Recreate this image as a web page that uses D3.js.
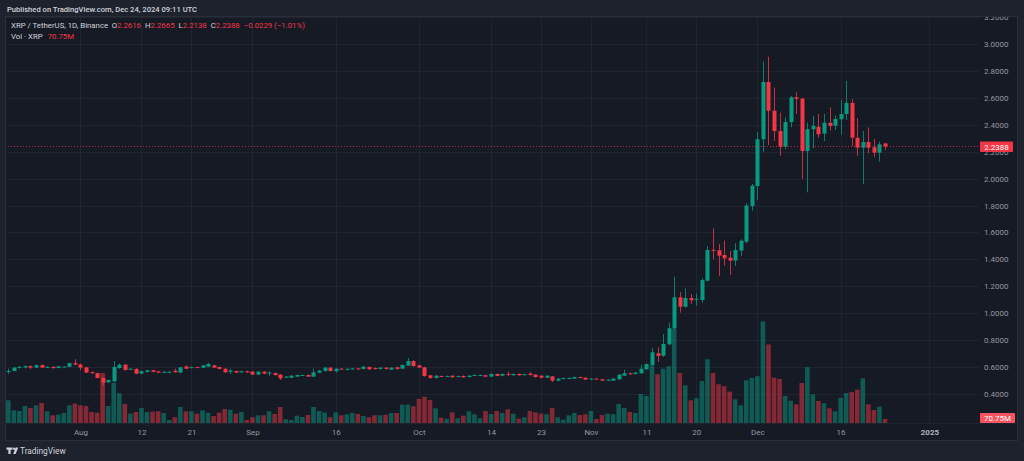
<!DOCTYPE html>
<html>
<head>
<meta charset="utf-8">
<script src="https://cdn.jsdelivr.net/npm/d3@7"></script>
<style>
  html, body { margin: 0; padding: 0; background: #1e222d; }
  svg { display: block; font-family: Roboto, "Noto Sans", sans-serif; }
</style>
</head>
<body>
<svg id="chart" width="1024" height="461"></svg>
<script>
// daily XRP/USDT candles from 2024-07-19 to 2024-12-24
const startDay = "2024-07-19";
const opens = [
  .567,.569,.594,.595,.605,.594,.613,.597,.600,.591,
  .600,.600,.628,.617,.596,.561,.553,.517,.485,.492,
  .591,.616,.582,.584,.550,.562,.574,.566,.561,.560,
  .571,.557,.603,.592,.598,.593,.601,.611,.599,.586,
  .563,.569,.559,.567,.564,.542,.564,.553,.554,.542,
  .519,.519,.527,.535,.539,.527,.556,.569,.594,.567,
  .586,.581,.584,.588,.584,.599,.591,.584,.594,.579,
  .596,.586,.609,.643,.611,.596,.537,.517,.532,.528,
  .534,.527,.532,.524,.532,.537,.537,.527,.547,.534,
  .547,.537,.547,.542,.549,.542,.534,.519,.529,.497,
  .512,.513,.512,.524,.519,.508,.512,.507,.499,.497,
  .507,.534,.552,.547,.552,.582,.614,.701,.683,.768,
  .887,1.117,1.047,1.112,1.103,1.097,1.241,1.470,1.467,1.432,
  1.412,1.390,1.464,1.531,1.796,1.945,2.293,2.719,2.505,2.354,
  2.238,2.421,2.605,2.595,2.205,2.367,2.386,2.335,2.416,2.394,
  2.441,2.481,2.563,2.304,2.230,2.272,2.233,2.193,2.2616
];
const highs = [
  .586,.600,.606,.610,.611,.618,.616,.604,.603,.606,
  .606,.632,.657,.624,.600,.566,.556,.520,.505,.643,
  .625,.620,.592,.590,.572,.578,.578,.570,.568,.570,
  .586,.600,.611,.603,.601,.615,.631,.615,.602,.590,
  .586,.573,.571,.571,.568,.568,.568,.567,.558,.545,
  .531,.537,.543,.542,.543,.586,.576,.598,.598,.590,
  .590,.589,.592,.592,.605,.603,.595,.598,.598,.598,
  .600,.618,.666,.650,.615,.600,.540,.538,.536,.535,
  .537,.535,.536,.537,.543,.543,.541,.550,.550,.550,
  .564,.550,.550,.549,.562,.545,.537,.537,.533,.516,
  .520,.521,.527,.527,.522,.517,.515,.510,.507,.515,
  .545,.579,.556,.561,.618,.625,.738,.745,.844,.928,
  1.271,1.157,1.184,1.142,1.147,1.259,1.499,1.630,1.514,1.538,
  1.462,1.519,1.549,1.816,1.960,2.347,2.870,2.907,2.677,2.490,
  2.456,2.615,2.642,2.600,2.416,2.466,2.481,2.480,2.531,2.470,
  2.585,2.726,2.590,2.450,2.354,2.382,2.295,2.275,2.2665
];
const lows = [
  .547,.565,.586,.590,.583,.590,.590,.592,.587,.588,
  .596,.597,.612,.574,.553,.547,.513,.462,.480,.488,
  .585,.570,.578,.545,.545,.558,.558,.553,.555,.556,
  .556,.554,.583,.588,.591,.590,.598,.590,.580,.555,
  .547,.553,.555,.555,.538,.538,.545,.532,.535,.502,
  .515,.516,.524,.531,.524,.524,.553,.566,.565,.557,
  .578,.574,.580,.580,.580,.578,.580,.580,.580,.576,
  .580,.583,.606,.600,.590,.525,.510,.513,.524,.524,
  .518,.524,.519,.521,.529,.533,.524,.524,.529,.531,
  .532,.534,.534,.538,.536,.521,.515,.515,.487,.493,
  .508,.509,.509,.514,.502,.504,.504,.494,.495,.494,
  .504,.531,.541,.543,.548,.578,.610,.638,.675,.760,
  .880,1.003,1.040,1.067,1.055,1.077,1.235,1.400,1.276,1.352,
  1.283,1.350,1.425,1.519,1.762,1.841,2.200,2.250,2.280,2.171,
  2.220,2.382,2.481,1.995,1.898,2.226,2.305,2.280,2.357,2.362,
  2.327,2.436,2.243,2.170,1.958,2.188,2.159,2.126,2.2138
];
const closes = [
  .569,.594,.600,.605,.594,.613,.594,.600,.590,.603,
  .602,.628,.617,.594,.557,.553,.517,.482,.502,.599,
  .616,.577,.586,.549,.567,.574,.562,.557,.563,.563,
  .560,.596,.586,.598,.594,.611,.621,.594,.584,.559,
  .572,.557,.567,.559,.542,.564,.549,.557,.539,.514,
  .527,.534,.539,.539,.527,.559,.572,.594,.569,.586,
  .581,.585,.588,.584,.601,.581,.584,.594,.584,.594,
  .584,.614,.643,.606,.594,.532,.517,.534,.527,.531,
  .522,.531,.522,.534,.539,.539,.527,.547,.532,.547,
  .542,.547,.537,.545,.539,.524,.519,.534,.497,.512,
  .516,.517,.524,.517,.505,.512,.507,.497,.504,.512,
  .542,.552,.545,.557,.586,.621,.708,.681,.770,.887,
  1.117,1.047,1.112,1.095,1.106,1.246,1.469,1.465,1.427,1.407,
  1.390,1.469,1.538,1.799,1.948,2.293,2.719,2.505,2.354,2.238,
  2.421,2.605,2.593,2.205,2.367,2.392,2.330,2.416,2.392,2.444,
  2.481,2.563,2.304,2.230,2.272,2.230,2.193,2.255,2.2388
];
// volume in millions of XRP
const volumes = [
  402,225,212,301,266,313,354,207,136,147,
  177,313,342,313,301,195,182,885,301,713,
  526,336,165,195,266,195,200,207,177,53,
  101,283,207,207,165,225,182,124,182,248,
  235,165,195,53,101,136,136,207,159,283,
  65,53,129,106,142,283,212,186,101,189,
  136,154,177,159,124,101,136,136,147,177,
  177,324,324,296,425,466,407,260,94,76,
  189,83,129,207,154,83,212,159,212,177,
  242,165,76,101,212,189,165,154,266,101,
  58,136,177,142,154,212,71,142,165,154,
  336,266,195,177,513,478,1021,862,961,1004,
  1669,885,667,402,437,743,1127,885,685,650,
  554,419,313,756,797,827,1797,1389,802,779,
  478,395,331,708,986,508,389,349,260,207,
  443,531,549,589,791,331,230,289,70.75
];
const priceTicks = [0.4,0.6,0.8,1.0,1.2,1.4,1.6,1.8,2.0,2.2,2.4,2.6,2.8,3.0,3.2];
const timeTickDates = ["2024-08-01","2024-08-12","2024-08-21","2024-09-01","2024-09-16","2024-10-01","2024-10-14","2024-10-23","2024-11-01","2024-11-11","2024-11-20","2024-12-01","2024-12-16","2025-01-01"];
const timeTickLabels = ["Aug","12","21","Sep","16","Oct","14","23","Nov","11","20","Dec","16","2025"];
const lastPrice = 2.2388;
const lastVolume = "70.75M";
const dayChange = "\u22120.0229 (\u22121.01%)";

const up = "#089981", down = "#f23645";
const textCol = "#d1d4dc", axisCol = "#9598a1", gridCol = "#20242f";

const parse = d3.utcParse("%Y-%m-%d");
const start = parse(startDay);
const days = opens.map((_, i) => d3.utcDay.offset(start, i));
const candles = days.map((d, i) => ({date: d, o: opens[i], h: highs[i], l: lows[i], c: closes[i], v: volumes[i]}));

const svg = d3.select("#chart");

const pane = {left: 5, top: 16, right: 1017, bottom: 440};
const plotRight = 979, plotBottom = 423;

const x = d3.scaleUtc()
  .domain([start, parse("2025-01-01")])
  .range([8.3, 929.4]);
const y = d3.scaleLinear().domain([0.4, 3.2]).range([393.7, 17.3]);
const yv = d3.scaleLinear().domain([0, 1800]).range([plotBottom, plotBottom - 101.8]);

// header
svg.append("text")
  .attr("x", 7).attr("y", 11.5)
  .attr("fill", textCol).attr("font-size", 7.6).attr("font-weight", 500)
  .text("Published on TradingView.com, Dec 24, 2024 09:11 UTC");

// pane
svg.append("rect")
  .attr("x", pane.left + 0.5).attr("y", pane.top + 0.5)
  .attr("width", pane.right - pane.left).attr("height", pane.bottom - pane.top)
  .attr("fill", "#161a25").attr("stroke", "#2a2e39");

svg.append("defs").append("clipPath").attr("id", "plotclip")
  .append("rect")
  .attr("x", pane.left + 1).attr("y", pane.top + 1)
  .attr("width", plotRight - pane.left - 1).attr("height", plotBottom - pane.top - 1);
svg.select("defs").append("clipPath").attr("id", "paneclip")
  .append("rect")
  .attr("x", pane.left + 1).attr("y", pane.top + 1)
  .attr("width", pane.right - pane.left - 1).attr("height", pane.bottom - pane.top - 1);

const plot = svg.append("g").attr("clip-path", "url(#plotclip)");

// grid
plot.append("g").selectAll("line").data(priceTicks).join("line")
  .attr("x1", pane.left).attr("x2", plotRight)
  .attr("y1", d => Math.round(y(d)) + 0.5).attr("y2", d => Math.round(y(d)) + 0.5)
  .attr("stroke", gridCol);
plot.append("g").selectAll("line").data(timeTickDates).join("line")
  .attr("x1", d => Math.round(x(parse(d))) + 0.5).attr("x2", d => Math.round(x(parse(d))) + 0.5)
  .attr("y1", pane.top).attr("y2", plotBottom)
  .attr("stroke", gridCol);

// volume
plot.append("g").selectAll("rect").data(candles).join("rect")
  .attr("x", d => x(d.date) - 2.3)
  .attr("width", 4.6)
  .attr("y", d => yv(d.v))
  .attr("height", d => plotBottom - yv(d.v))
  .attr("fill", d => d.c >= d.o ? up : down)
  .attr("fill-opacity", 0.5);

// candles
const cg = plot.append("g");
cg.selectAll("line").data(candles).join("line")
  .attr("x1", d => Math.round(x(d.date)) + 0.5).attr("x2", d => Math.round(x(d.date)) + 0.5)
  .attr("y1", d => y(d.h)).attr("y2", d => y(d.l))
  .attr("stroke", d => d.c >= d.o ? up : down)
  .attr("stroke-opacity", 0.8);
cg.selectAll("rect").data(candles).join("rect")
  .attr("x", d => Math.round(x(d.date)) - 1.5)
  .attr("width", 4)
  .attr("y", d => y(Math.max(d.o, d.c)))
  .attr("height", d => Math.max(1, Math.abs(y(d.o) - y(d.c))))
  .attr("fill", d => d.c >= d.o ? up : down);

// last price line
plot.append("line")
  .attr("x1", pane.left).attr("x2", plotRight)
  .attr("y1", y(lastPrice)).attr("y2", y(lastPrice))
  .attr("stroke", down).attr("stroke-dasharray", "1,2").attr("stroke-opacity", 0.7);

// bottom separator
svg.append("line")
  .attr("x1", pane.left).attr("x2", pane.right)
  .attr("y1", plotBottom + 0.5).attr("y2", plotBottom + 0.5)
  .attr("stroke", "#1f2330");

// price axis (2.2000 sits under the last-price tag, as in the source)
const yAxis = svg.append("g")
  .attr("clip-path", "url(#paneclip)")
  .append("g")
  .attr("transform", `translate(984,0)`)
  .call(d3.axisRight(y).tickValues(priceTicks).tickFormat(d3.format(".4f")).tickSize(0).tickPadding(0));
yAxis.select(".domain").remove();
yAxis.selectAll("text").attr("fill", axisCol).attr("font-size", 8).attr("font-family", "Roboto, sans-serif");

// time axis
const xAxis = svg.append("g")
  .attr("transform", `translate(0,${plotBottom})`)
  .call(d3.axisBottom(x).tickValues(timeTickDates.map(parse))
    .tickFormat((d, i) => timeTickLabels[i]).tickSize(0).tickPadding(6));
xAxis.select(".domain").remove();
xAxis.selectAll("text")
  .attr("fill", (d, i) => timeTickLabels[i] === "2025" ? "#b2b5be" : axisCol)
  .attr("font-weight", (d, i) => timeTickLabels[i] === "2025" ? 700 : 400)
  .attr("font-size", 8).attr("font-family", "Roboto, sans-serif");

// last price labels
const lp = svg.append("g");
lp.append("rect").attr("x", 980).attr("y", y(lastPrice) - 5).attr("width", 33).attr("height", 10.5)
  .attr("fill", down).attr("rx", 1);
lp.append("text").attr("x", 996.5).attr("y", y(lastPrice) + 3)
  .attr("text-anchor", "middle").attr("fill", "#fff").attr("font-size", 8).text(d3.format(".4f")(lastPrice));
lp.append("rect").attr("x", 980).attr("y", 413).attr("width", 35).attr("height", 10)
  .attr("fill", "#f7525f").attr("rx", 1);
lp.append("text").attr("x", 997.5).attr("y", 421)
  .attr("text-anchor", "middle").attr("fill", "#fff").attr("font-size", 8).text(lastVolume);

// legend, laid out left to right
const last = candles[candles.length - 1];
const f4 = d3.format(".4f");
const legend = svg.append("g").attr("font-size", 7.8);
let lx = 11;
function put(parts, yy, gap) {
  const t = legend.append("text").attr("x", lx).attr("y", yy);
  parts.forEach(([txt, col]) => t.append("tspan").attr("fill", col).text(txt));
  lx += t.node().getComputedTextLength() + gap;
}
put([["XRP / TetherUS, 1D, Binance", textCol]], 28, 3.5);
[["O", last.o], ["H", last.h], ["L", last.l], ["C", last.c]].forEach(([k, v]) => put([[k, textCol], [f4(v), down]], 28, 4));
put([[dayChange, down]], 28, 0);
lx = 11;
put([["Vol \u00b7 XRP", textCol]], 39, 5);
put([[lastVolume, down]], 39, 0);

// footer logo
const logo = svg.append("g").attr("fill", textCol);
logo.append("path").attr("d", "M6.5,447.5 h6 v2.3 h-1.9 v4.2 h-2.2 v-4.2 h-1.9 z");
logo.append("circle").attr("cx", 14.2).attr("cy", 448.7).attr("r", 1.2);
logo.append("path").attr("d", "M15.8,447.5 h2.4 l-2.6,6.5 h-2.4 z");
svg.append("text").attr("x", 20).attr("y", 454)
  .attr("fill", textCol).attr("font-size", 8.3).text("TradingView");
</script>
</body>
</html>
